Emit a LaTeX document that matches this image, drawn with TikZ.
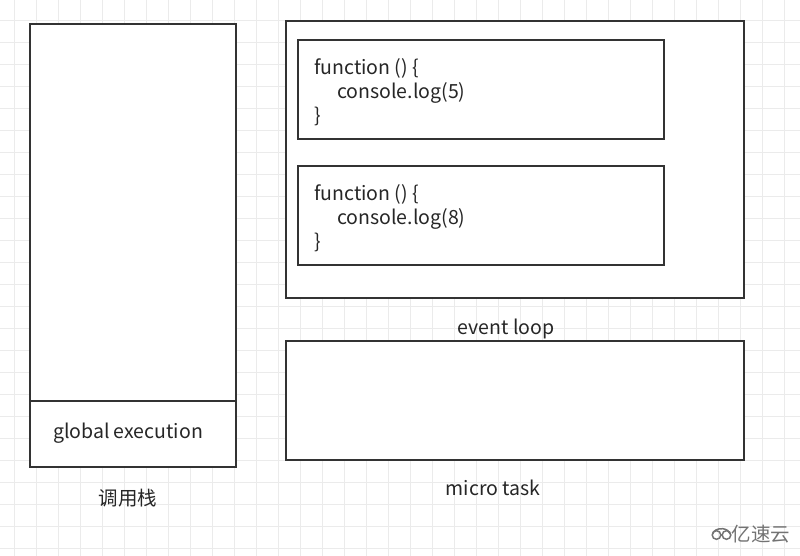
\documentclass[tikz,border=0pt]{standalone}
\usepackage{fontspec}
\setmainfont{Noto Sans CJK SC}
\begin{document}
\begin{tikzpicture}[x=1pt,y=-1pt,
  box/.style={draw=black!80,line width=2.6pt},
  gridline/.style={draw=black!8,line width=0.8pt},
  txt/.style={font=\fontsize{19.5}{24}\selectfont,text=black!85,inner sep=0pt},
  code/.style={txt,align=left,anchor=west}]
\useasboundingbox (0,0) rectangle (800,556);
\fill[white] (0,0) rectangle (800,556);
\foreach \x in {14,36,...,800} \draw[gridline] (\x,0) -- (\x,556);
\foreach \y in {20,42,...,556} \draw[gridline] (0,\y) -- (800,\y);

% call stack
\fill[white] (30,24) rectangle (236,467);
\draw[box] (30,24) rectangle (236,467);
\coordinate (divL) at (30,401);
\coordinate (divR) at (236,401);
\draw[box] (divL) -- (divR);
\node[txt] (global) at (128,433) {global\ execution};
\node[txt] (stacklbl) at (128,498) {调用栈};

% event loop
\fill[white] (286,21) rectangle (744,298);
\draw[box] (286,21) rectangle (744,298);
\draw[box,fill=white] (298,40) rectangle (664,139);
\draw[box,fill=white] (298,166) rectangle (664,265);
\node[code] (f1) at (314,92) {function () \{\\\hspace*{23pt}console.log(5)\\\}};
\node[code] (f2) at (314,218) {function () \{\\\hspace*{23pt}console.log(8)\\\}};
\node[txt] (evlbl) at (506,329) {event loop};

% micro task
\draw[box,fill=white] (286,341) rectangle (744,460);
\node[txt] (mtlbl) at (493,488) {micro task};

% watermark
\draw[black!55,line width=1.5pt] (716.5,535) circle (4.3) (726.5,535) circle (4.3);
\draw[black!55,line width=1.5pt] (712.5,534) arc (190:350:9 and 6.5);
\node[txt,text=black!55] (wm) at (761,534) {亿速云};
\end{tikzpicture}
\end{document}
